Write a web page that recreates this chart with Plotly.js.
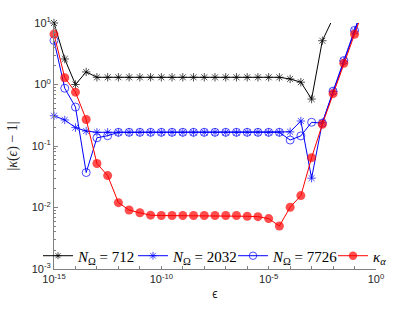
<!DOCTYPE html>
<html><head><meta charset="utf-8">
<script src="https://cdn.plot.ly/plotly-3.0.1.min.js"></script>
<style>html,body{margin:0;padding:0;background:#fff}</style>
</head><body><div id="chart" style="width:415px;height:312px"></div>
<script>
const eps = [1e-15, 3.16e-15, 1e-14, 3.16e-14, 1e-13, 3.16e-13, 1e-12, 3.16e-12, 1e-11, 3.16e-11,
  1e-10, 3.16e-10, 1e-9, 3.16e-9, 1e-8, 3.16e-8, 1e-7, 3.16e-7, 1e-6, 3.16e-6,
  1e-5, 3.16e-5, 1e-4, 3.16e-4, 1e-3, 3.16e-3, 1e-2, 3.16e-2, 1e-1, 3.16e-1, 1];
const err712 = [10, 2.6, 1.0, 1.6,
  1.31, 1.31, 1.31, 1.31, 1.31, 1.31, 1.31, 1.31, 1.31, 1.31, 1.31, 1.31, 1.31, 1.31, 1.31, 1.31, 1.31, 1.31,
  1.23, 1.09, 0.58, 5.15, 12, 30, 80, 200, 500];
const err2032 = [0.31, 0.265, 0.199, 0.175,
  0.167, 0.167, 0.167, 0.167, 0.167, 0.167, 0.167, 0.167, 0.167, 0.167, 0.167, 0.167, 0.167, 0.167, 0.167, 0.167, 0.167, 0.167,
  0.17, 0.255, 0.030, 0.24, 0.77, 2.4, 7.4, 23, 70];
const err7726 = [5.2, 0.87, 0.43, 0.037, 0.136, 0.147,
  0.167, 0.167, 0.167, 0.167, 0.167, 0.167, 0.167, 0.167, 0.167, 0.167, 0.167, 0.167, 0.167, 0.167, 0.167, 0.167,
  0.125, 0.146, 0.243, 0.235, 0.78, 2.45, 7.6, 24, 75];
const errAlpha = [6.6, 1.29, 0.75, 0.27, 0.052, 0.033, 0.012, 0.0091, 0.0082, 0.0075,
  0.0074, 0.0074, 0.0074, 0.0074, 0.0074, 0.0074, 0.0074, 0.0074,
  0.0072, 0.0071, 0.0066, 0.0050, 0.0101, 0.0156, 0.0646, 0.225, 0.71, 2.21, 6.55, 20, 62];
const seriesNames = ['<i>N</i><sub>Ω</sub> = 712', '<i>N</i><sub>Ω</sub> = 2032', '<i>N</i><sub>Ω</sub> = 7726', '<i>κ</i><sub><i>α</i></sub>'];
const xTickVals = [1e-15, 1e-10, 1e-5, 1];
const xTickText = ['10<sup>-15</sup>', '10<sup>-10</sup>', '10<sup>-5</sup>', '10<sup>0</sup>'];
const yTickVals = [1e-3, 1e-2, 1e-1, 1, 10];
const yTickText = ['10<sup>-3</sup>', '10<sup>-2</sup>', '10<sup>-1</sup>', '10<sup>0</sup>', '10<sup>1</sup>'];

const YMAX = 10;
const yMinor = [];
[1e-3, 1e-2, 1e-1, 1].forEach(d => { for (let k = 2; k <= 9; k++) yMinor.push(d * k); });
const xMinor = [];
for (let e = -14; e <= -1; e++) { if (e % 5 !== 0) xMinor.push(Math.pow(10, e)); }
function sizes(vals, s) { return vals.map(v => v <= YMAX * 1.0001 ? s : 0); }

const traces = [
  {x: eps, y: err712, name: seriesNames[0], legend: 'legend', mode: 'lines+markers', cliponaxis: false,
   line: {color: '#000000', width: 1}, marker: {symbol: 'asterisk-open', size: sizes(err712, 7), color: '#000000', line: {color: '#000000', width: 1}}},
  {x: eps, y: err2032, name: seriesNames[1], legend: 'legend2', mode: 'lines+markers', cliponaxis: false,
   line: {color: '#0000ff', width: 1}, marker: {symbol: 'asterisk-open', size: sizes(err2032, 7), color: '#0000ff', line: {color: '#0000ff', width: 1}}},
  {x: eps, y: err7726, name: seriesNames[2], legend: 'legend3', mode: 'lines+markers', cliponaxis: false,
   line: {color: '#0000ff', width: 1}, marker: {symbol: 'circle-open', size: sizes(err7726, 8), color: '#0000ff', line: {color: '#0000ff', width: 1}}},
  {x: eps, y: errAlpha, name: seriesNames[3], legend: 'legend4', mode: 'lines+markers', cliponaxis: false,
   line: {color: '#ff0000', width: 1}, marker: {symbol: 'circle', size: sizes(errAlpha, 9), color: '#ff0000', line: {width: 0}}}
];

function legendAt(xFrac) {
  return {orientation: 'h', x: xFrac, xanchor: 'left', y: 0.053, yanchor: 'middle',
    bgcolor: 'rgba(0,0,0,0)', itemwidth: 30,
    font: {family: 'Liberation Serif, DejaVu Serif, serif', size: 15, color: '#000000'}};
}

const layout = {
  width: 415, height: 312,
  margin: {l: 54, r: 39, t: 23, b: 43},
  paper_bgcolor: '#ffffff', plot_bgcolor: '#ffffff',
  font: {family: 'Liberation Sans, Arial, sans-serif', size: 11, color: '#262626'},
  showlegend: true,
  legend: legendAt(-0.0497),
  legend2: legendAt(0.2453),
  legend3: legendAt(0.5559),
  legend4: legendAt(0.8665),
  xaxis: {type: 'log', range: [-15, 0], showline: true, linecolor: '#808080', linewidth: 1,
    ticks: 'inside', ticklen: 3, tickcolor: '#808080', tickmode: 'array', tickvals: xTickVals, ticktext: xTickText,
    minor: {tickmode: 'array', tickvals: xMinor, ticks: 'inside', ticklen: 3, tickcolor: '#808080', showgrid: false},
    showgrid: false, zeroline: false, mirror: false, automargin: true,
    title: {text: 'ϵ', font: {size: 12, color: '#262626'}, standoff: 5}},
  yaxis: {type: 'log', range: [-3, 1], showline: true, linecolor: '#808080', linewidth: 1,
    ticks: 'inside', ticklen: 4, tickcolor: '#808080', tickmode: 'array', tickvals: yTickVals, ticktext: yTickText,
    minor: {tickmode: 'array', tickvals: yMinor, ticks: 'inside', ticklen: 2, tickcolor: '#808080', showgrid: false},
    showgrid: false, zeroline: false, mirror: false, automargin: true,
    title: {text: '|<i>κ</i>(<i>ϵ</i>) − 1|', font: {family: 'Liberation Serif, DejaVu Serif, serif', size: 14, color: '#262626'}, standoff: 10}}
};
Plotly.newPlot('chart', traces, layout, {displayModeBar: false, staticPlot: true});
</script></body></html>
